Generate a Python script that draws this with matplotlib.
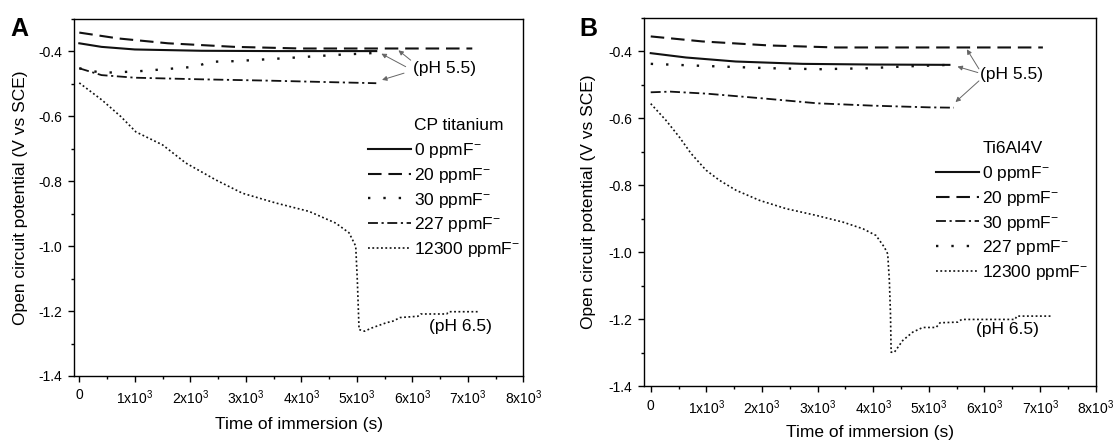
import matplotlib
matplotlib.use("Agg")
import matplotlib.pyplot as plt
from matplotlib.ticker import MultipleLocator, FixedLocator

plt.rcParams['font.family'] = ['Liberation Sans', 'DejaVu Sans']
plt.rcParams['mathtext.fontset'] = 'custom'
plt.rcParams['mathtext.rm'] = 'Liberation Sans'
plt.rcParams['mathtext.default'] = 'regular'
plt.rcParams['axes.unicode_minus'] = False

# ---------------- data: panel A (CP titanium) ----------------
a_t0 = [0, 400, 1000, 2200, 3500, 4500, 5350]
a_v0 = [-0.375, -0.386, -0.394, -0.398, -0.399, -0.399, -0.399]
a_t20 = [0, 700, 1600, 2800, 4000, 5000, 6000, 7080]
a_v20 = [-0.342, -0.360, -0.375, -0.386, -0.391, -0.391, -0.391, -0.391]
a_t30 = [0, 400, 1000, 1600, 2100, 2350, 2800, 3700, 4600, 5300]
a_v30 = [-0.452, -0.466, -0.462, -0.454, -0.447, -0.432, -0.430, -0.421, -0.411, -0.405]
a_t227 = [0, 400, 1000, 2200, 3400, 4600, 5350]
a_v227 = [-0.452, -0.473, -0.481, -0.486, -0.490, -0.495, -0.498]
a_t12300 = [0, 410, 750, 1020, 1500, 1920, 2460, 2940, 3540, 4140, 4620, 4860,
            4980, 5010, 5040, 5140, 5270, 5530, 5650, 5780, 6100, 6150, 6620, 6650, 7200]
a_v12300 = [-0.497, -0.550, -0.601, -0.648, -0.688, -0.744, -0.796, -0.837, -0.867,
            -0.893, -0.929, -0.959, -1.000, -1.110, -1.257, -1.262, -1.252, -1.236,
            -1.231, -1.220, -1.216, -1.209, -1.209, -1.202, -1.202]
a_title = 'CP titanium'
a_labels = ['0 ppmF$^{-}$', '20 ppmF$^{-}$', '30 ppmF$^{-}$', '227 ppmF$^{-}$', '12300 ppmF$^{-}$']

# ---------------- data: panel B (Ti6Al4V) ----------------
b_t0 = [0, 635, 1530, 2730, 4000, 5370]
b_v0 = [-0.405, -0.418, -0.430, -0.437, -0.439, -0.440]
b_t20 = [0, 930, 2130, 3330, 4500, 5500, 6300, 7050]
b_v20 = [-0.355, -0.370, -0.382, -0.388, -0.388, -0.388, -0.388, -0.388]
b_t30 = [0, 350, 1000, 2000, 3000, 4000, 5000, 5450]
b_v30 = [-0.522, -0.520, -0.526, -0.540, -0.555, -0.562, -0.567, -0.568]
b_t227 = [0, 930, 2130, 3030, 3930, 4530, 5370]
b_v227 = [-0.437, -0.443, -0.450, -0.453, -0.450, -0.445, -0.440]
b_t12300 = [0, 275, 515, 725, 995, 1235, 1535, 1955, 2435, 2975, 3455, 3815, 4050,
            4200, 4260, 4290, 4310, 4322, 4380, 4530, 4710, 4890, 5130, 5200, 5520,
            5590, 6550, 6580, 7190]
b_v12300 = [-0.556, -0.606, -0.656, -0.705, -0.755, -0.785, -0.815, -0.845, -0.870,
            -0.890, -0.910, -0.930, -0.950, -0.985, -1.005, -1.085, -1.184, -1.299,
            -1.299, -1.264, -1.239, -1.225, -1.225, -1.211, -1.209, -1.201, -1.201,
            -1.191, -1.191]
b_title = 'Ti6Al4V'
b_labels = ['0 ppmF$^{-}$', '20 ppmF$^{-}$', '30 ppmF$^{-}$', '227 ppmF$^{-}$', '12300 ppmF$^{-}$']

xticks = [0, 1000, 2000, 3000, 4000, 5000, 6000, 7000, 8000]
xticklabels = ['0', '1x10$^{3}$', '2x10$^{3}$', '3x10$^{3}$', '4x10$^{3}$',
               '5x10$^{3}$', '6x10$^{3}$', '7x10$^{3}$', '8x10$^{3}$']
yticks = [-1.4, -1.2, -1.0, -0.8, -0.6, -0.4]
yticklabels = ['-1.4', '-1.2', '-1.0', '-0.8', '-0.6', '-0.4']

# ---------------- styles ----------------
K = '#111111'
st_solid = dict(color=K, lw=1.5, linestyle='-')
st_dash = dict(color=K, lw=1.5, linestyle=(0, (6.5, 3.3)))
st_dot = dict(color=K, lw=1.7, linestyle=(0, (1, 5.5)))
st_dashdot = dict(color=K, lw=1.3, linestyle=(0, (5.5, 2, 1.2, 2)))
st_fine = dict(color=K, lw=1.2, linestyle=(0, (1.1, 1.5)))

FS = 12.5
W, H = 1114, 444
fig = plt.figure(figsize=(W / 100, H / 100), dpi=100)
axA = fig.add_axes([0.0667, 0.1532, 0.4031, 0.8041])
axB = fig.add_axes([0.5784, 0.1306, 0.4052, 0.8288])


def style_axis(ax, xmin):
    ax.set_xlim(xmin, 8000)
    ax.set_ylim(-1.4, -0.3)
    ax.xaxis.set_major_locator(FixedLocator(xticks))
    ax.set_xticklabels(xticklabels, fontsize=10)
    ax.xaxis.set_minor_locator(MultipleLocator(500))
    ax.yaxis.set_major_locator(FixedLocator(yticks))
    ax.set_yticklabels(yticklabels, fontsize=10)
    ax.yaxis.set_minor_locator(MultipleLocator(0.1))
    ax.tick_params(which='major', direction='out', length=4, width=1, pad=5)
    ax.tick_params(which='minor', direction='out', length=2.5, width=1)
    ax.tick_params(top=False, right=False)
    for s in ax.spines.values():
        s.set_linewidth(1.0)
    ax.set_ylabel('Open circuit potential (V vs SCE)', fontsize=FS)


arrow_kw = dict(arrowstyle='-|>', color='#666666', lw=0.7, mutation_scale=7,
                shrinkA=0, shrinkB=1)
leg_kw = dict(loc='upper left', frameon=False, fontsize=FS, handlelength=2.45,
              handletextpad=0.2, labelspacing=0.33, borderpad=0, borderaxespad=0)

# Panel A
style_axis(axA, -90)
hA = [
    axA.plot(a_t0, a_v0, **st_solid)[0],
    axA.plot(a_t20, a_v20, **st_dash)[0],
    axA.plot(a_t30, a_v30, **st_dot)[0],
    axA.plot(a_t227, a_v227, **st_dashdot)[0],
    axA.plot(a_t12300, a_v12300, **st_fine)[0],
]
axA.set_xlabel('Time of immersion (s)', fontsize=FS, labelpad=7)
axA.yaxis.set_label_coords(-0.103, 0.5)
legA = axA.legend(hA, a_labels, bbox_to_anchor=(0.655, 0.658), **leg_kw)

axA.text(6571, -0.452, '(pH 5.5)', fontsize=FS, ha='center', va='center')
axA.annotate('', xy=(5730, -0.394), xytext=(5970, -0.427), arrowprops=arrow_kw)
axA.annotate('', xy=(5420, -0.405), xytext=(5880, -0.447), arrowprops=arrow_kw)
axA.annotate('', xy=(5430, -0.489), xytext=(5850, -0.467), arrowprops=arrow_kw)
axA.text(6860, -1.247, '(pH 6.5)', fontsize=FS, ha='center', va='center')
fig.text(0.009, 0.935, 'A', fontsize=18, fontweight='bold', ha='left', va='center')

# Panel B
style_axis(axB, -115)
hB = [
    axB.plot(b_t0, b_v0, **st_solid)[0],
    axB.plot(b_t20, b_v20, **st_dash)[0],
    axB.plot(b_t30, b_v30, **st_dashdot)[0],
    axB.plot(b_t227, b_v227, **st_dot)[0],
    axB.plot(b_t12300, b_v12300, **st_fine)[0],
]
axB.set_xlabel('Time of immersion (s)', fontsize=FS, labelpad=6)
axB.yaxis.set_label_coords(-0.107, 0.5)
legB = axB.legend(hB, b_labels, bbox_to_anchor=(0.647, 0.603), **leg_kw)

axB.text(6480, -0.470, '(pH 5.5)', fontsize=FS, ha='center', va='center')
axB.annotate('', xy=(5670, -0.390), xytext=(5900, -0.452), arrowprops=arrow_kw)
axB.annotate('', xy=(5490, -0.444), xytext=(5880, -0.463), arrowprops=arrow_kw)
axB.annotate('', xy=(5460, -0.554), xytext=(5900, -0.488), arrowprops=arrow_kw)
axB.text(6410, -1.231, '(pH 6.5)', fontsize=FS, ha='center', va='center')
fig.text(0.520, 0.935, 'B', fontsize=18, fontweight='bold', ha='left', va='center')

# legend titles aligned with the label text, one row above the first entry
fig.canvas.draw()
for leg, title in ((legA, a_title), (legB, b_title)):
    t0 = leg.get_texts()[0].get_window_extent()
    t1 = leg.get_texts()[1].get_window_extent()
    step = (t0.y0 + t0.y1) / 2 - (t1.y0 + t1.y1) / 2
    fig.text(t0.x0 / W, ((t0.y0 + t0.y1) / 2 + step) / H, title, fontsize=FS,
             ha='left', va='center')

fig.savefig('out.png', dpi=100)
